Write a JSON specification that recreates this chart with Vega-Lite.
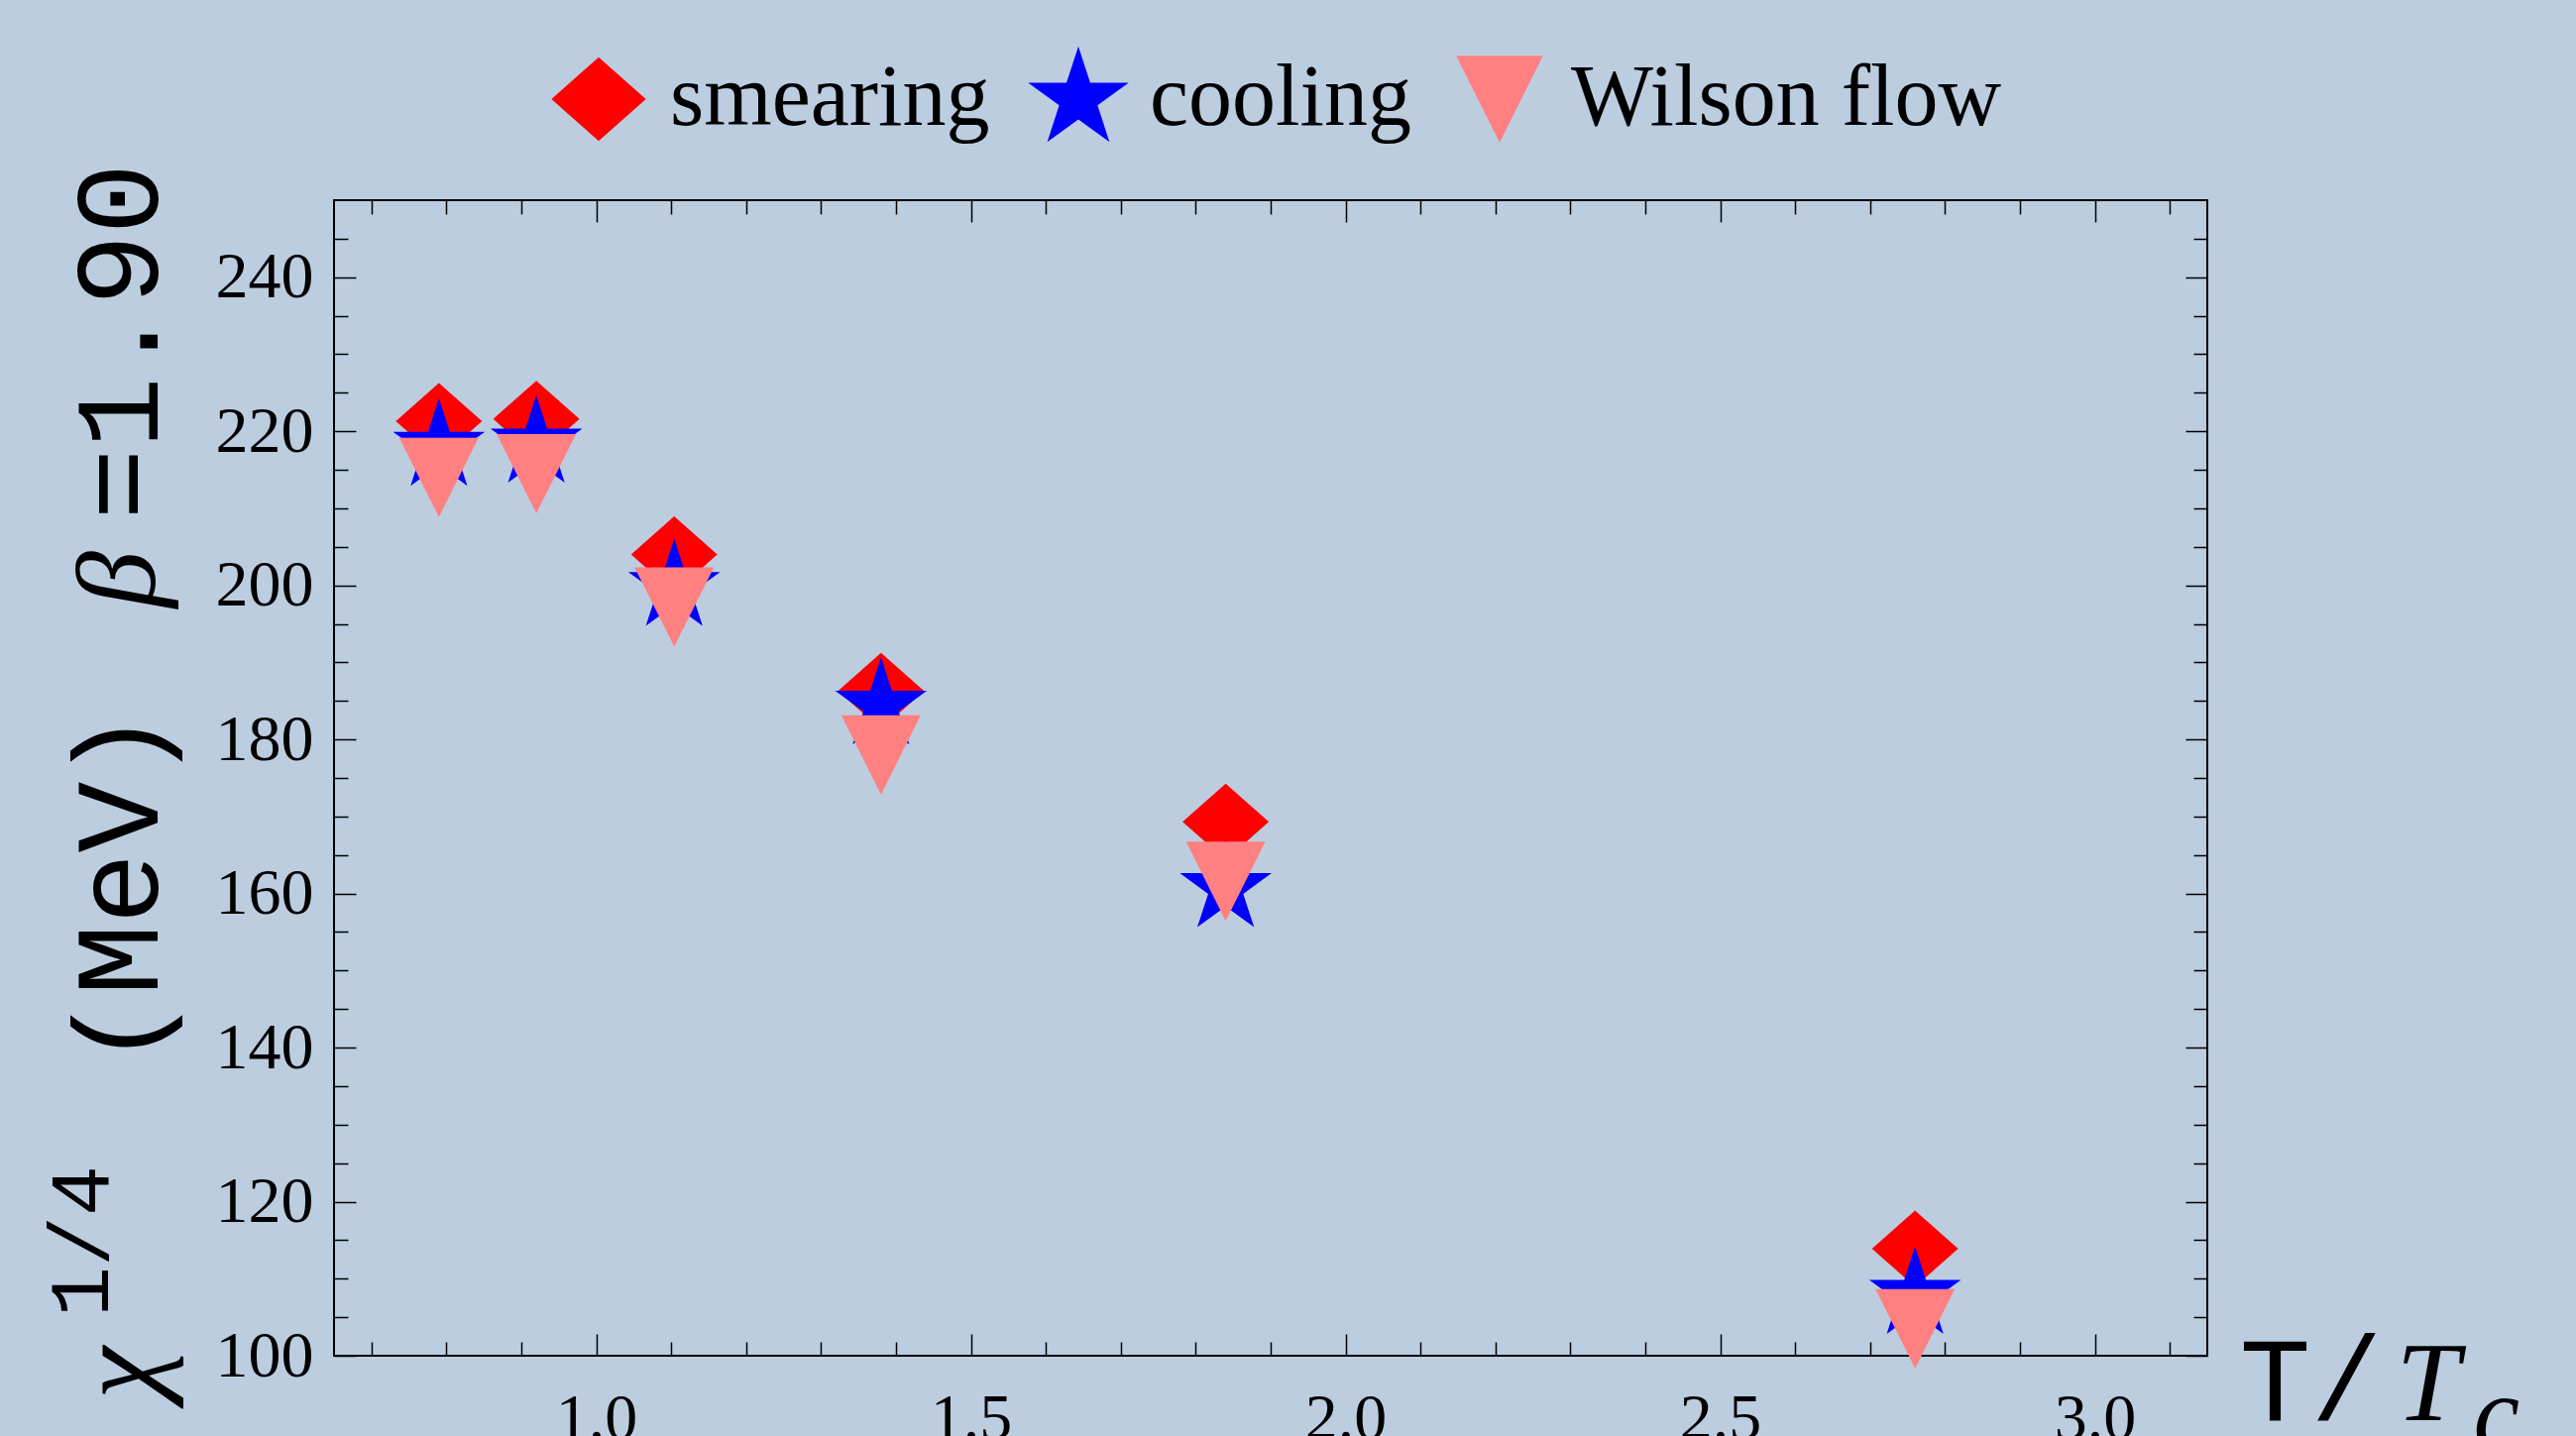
{
  "$schema": "https://vega.github.io/schema/vega-lite/v6.json",
  "width": 1890,
  "height": 1166,
  "autosize": "none",
  "padding": {"left": 337, "top": 202, "right": 372, "bottom": 81},
  "background": "#bccde0",
  "config": {
    "view": {"stroke": "black", "strokeWidth": 2},
    "axis": {
      "grid": false,
      "domain": false,
      "tickColor": "black",
      "tickWidth": 1.5,
      "labelColor": "black",
      "labelFont": "Liberation Serif",
      "labelFontSize": 66,
      "labelFlush": false,
      "labelOverlap": false,
      "titleColor": "black",
      "titleFontWeight": "normal"
    }
  },
  "data": {
    "values": [
      {"T": 0.79, "chi": 221.3, "method": "smearing"},
      {"T": 0.92, "chi": 221.6, "method": "smearing"},
      {"T": 1.104, "chi": 204.0, "method": "smearing"},
      {"T": 1.38, "chi": 186.3, "method": "smearing"},
      {"T": 1.84, "chi": 169.3, "method": "smearing"},
      {"T": 2.76, "chi": 113.9, "method": "smearing"},
      {"T": 0.79, "chi": 218.0, "method": "cooling"},
      {"T": 0.92, "chi": 218.4, "method": "cooling"},
      {"T": 1.104, "chi": 199.8, "method": "cooling"},
      {"T": 1.38, "chi": 184.4, "method": "cooling"},
      {"T": 1.84, "chi": 160.7, "method": "cooling"},
      {"T": 2.76, "chi": 107.9, "method": "cooling"},
      {"T": 0.79, "chi": 214.0, "method": "Wilson flow"},
      {"T": 0.92, "chi": 214.5, "method": "Wilson flow"},
      {"T": 1.104, "chi": 197.2, "method": "Wilson flow"},
      {"T": 1.38, "chi": 178.0, "method": "Wilson flow"},
      {"T": 1.84, "chi": 161.6, "method": "Wilson flow"},
      {"T": 2.76, "chi": 103.5, "method": "Wilson flow"}
    ]
  },
  "resolve": {"axis": {"x": "independent", "y": "independent"}},
  "layer": [
    {
      "mark": {"type": "point", "filled": true, "size": 10000, "opacity": 1, "strokeWidth": 0},
      "encoding": {
        "x": {
          "field": "T", "type": "quantitative",
          "scale": {"domain": [0.65, 3.15], "nice": false, "zero": false},
          "axis": {
            "orient": "bottom", "values": [1, 1.5, 2, 2.5, 3], "format": ".1f",
            "tickSize": -22, "labelPadding": 53,
            "title": "T/", "titleFont": "Liberation Mono", "titleFontSize": 120,
            "titleAngle": 0, "titleAlign": "left", "titleBaseline": "alphabetic",
            "titleX": 1922, "titleY": 64
          }
        },
        "y": {
          "field": "chi", "type": "quantitative",
          "scale": {"domain": [100, 250], "nice": false, "zero": false},
          "axis": {
            "orient": "left", "values": [100, 120, 140, 160, 180, 200, 220, 240],
            "tickSize": -22, "labelPadding": 43,
            "title": "(MeV)", "titleFont": "Liberation Mono", "titleFontSize": 120,
            "titleAngle": -90, "titleAlign": "center", "titleBaseline": "alphabetic",
            "titleX": -179, "titleY": 694
          }
        },
        "shape": {
          "field": "method", "type": "nominal",
          "scale": {
            "domain": ["smearing", "cooling", "Wilson flow"],
            "range": [
              "M0,-0.77L0.87,0L0,0.77L-0.87,0Z",
              "M0,-0.974L0.2187,-0.301L0.9264,-0.301L0.3539,0.115L0.5725,0.788L0,0.3721L-0.5725,0.788L-0.3539,0.115L-0.9264,-0.301L-0.2187,-0.301Z",
              "M-0.8,-0.8L0.8,-0.8L0,0.8Z"
            ]
          },
          "legend": {
            "title": null, "orient": "none", "direction": "horizontal",
            "legendX": 212, "legendY": -157, "padding": 0,
            "symbolSize": 12000, "symbolStrokeWidth": 0, "symbolOpacity": 1,
            "labelFont": "Liberation Serif", "labelFontSize": 88, "labelColor": "black",
            "labelLimit": 0, "labelOffset": 17, "columnPadding": 34
          }
        },
        "color": {
          "field": "method", "type": "nominal",
          "scale": {"domain": ["smearing", "cooling", "Wilson flow"], "range": ["#ff0000", "#0000ff", "#ff8080"]},
          "legend": {
            "title": null, "orient": "none", "direction": "horizontal",
            "legendX": 212, "legendY": -157, "padding": 0,
            "symbolSize": 12000, "symbolStrokeWidth": 0, "symbolOpacity": 1,
            "labelFont": "Liberation Serif", "labelFontSize": 88, "labelColor": "black",
            "labelLimit": 0, "labelOffset": 17, "columnPadding": 34
          }
        }
      }
    },
    {
      "mark": {"type": "point", "opacity": 0},
      "encoding": {
        "x": {
          "field": "T", "type": "quantitative",
          "axis": {
            "orient": "bottom",
            "values": [0.7, 0.8, 0.9, 1.1, 1.2, 1.3, 1.4, 1.6, 1.7, 1.8, 1.9, 2.1, 2.2, 2.3, 2.4, 2.6, 2.7, 2.8, 2.9, 3.1],
            "tickSize": -14, "labels": false,
            "title": "T", "titleFont": "Liberation Serif", "titleFontStyle": "italic", "titleFontSize": 115,
            "titleAngle": 0, "titleAlign": "left", "titleBaseline": "alphabetic",
            "titleX": 2080, "titleY": 64
          }
        },
        "y": {
          "field": "chi", "type": "quantitative",
          "axis": {
            "orient": "left",
            "values": [105, 110, 115, 125, 130, 135, 145, 150, 155, 165, 170, 175, 185, 190, 195, 205, 210, 215, 225, 230, 235, 245],
            "tickSize": -14, "labels": false,
            "title": "β", "titleFont": "Liberation Serif", "titleFontStyle": "italic", "titleFontSize": 115,
            "titleAngle": -90, "titleAlign": "center", "titleBaseline": "alphabetic",
            "titleX": -182, "titleY": 382
          }
        }
      }
    },
    {
      "mark": {"type": "point", "opacity": 0},
      "encoding": {
        "x": {
          "field": "T", "type": "quantitative",
          "axis": {
            "orient": "top", "values": [1, 1.5, 2, 2.5, 3],
            "tickSize": -22, "labels": false,
            "title": "c", "titleFont": "Liberation Serif", "titleFontStyle": "italic", "titleFontSize": 105,
            "titleAngle": 0, "titleAlign": "left", "titleBaseline": "alphabetic",
            "titleX": 2158, "titleY": 1258
          }
        },
        "y": {
          "field": "chi", "type": "quantitative",
          "axis": {
            "orient": "right", "values": [100, 120, 140, 160, 180, 200, 220, 240],
            "tickSize": -22, "labels": false,
            "title": "=1.90", "titleFont": "Liberation Mono", "titleFontSize": 120,
            "titleAngle": -90, "titleAlign": "center", "titleBaseline": "alphabetic",
            "titleX": -2069, "titleY": 142
          }
        }
      }
    },
    {
      "mark": {"type": "point", "opacity": 0},
      "encoding": {
        "x": {
          "field": "T", "type": "quantitative",
          "axis": {
            "orient": "top",
            "values": [0.7, 0.8, 0.9, 1.1, 1.2, 1.3, 1.4, 1.6, 1.7, 1.8, 1.9, 2.1, 2.2, 2.3, 2.4, 2.6, 2.7, 2.8, 2.9, 3.1],
            "tickSize": -14, "labels": false,
            "title": "1/4", "titleFont": "Liberation Mono", "titleFontSize": 85,
            "titleAngle": -90, "titleAlign": "center", "titleBaseline": "alphabetic",
            "titleX": -229, "titleY": 1050
          }
        },
        "y": {
          "field": "chi", "type": "quantitative",
          "axis": {
            "orient": "right",
            "values": [105, 110, 115, 125, 130, 135, 145, 150, 155, 165, 170, 175, 185, 190, 195, 205, 210, 215, 225, 230, 235, 245],
            "tickSize": -14, "labels": false,
            "title": "χ", "titleFont": "Liberation Serif", "titleFontStyle": "italic", "titleFontSize": 120,
            "titleAngle": -90, "titleAlign": "center", "titleBaseline": "alphabetic",
            "titleX": -2069, "titleY": 1183
          }
        }
      }
    }
  ]
}
